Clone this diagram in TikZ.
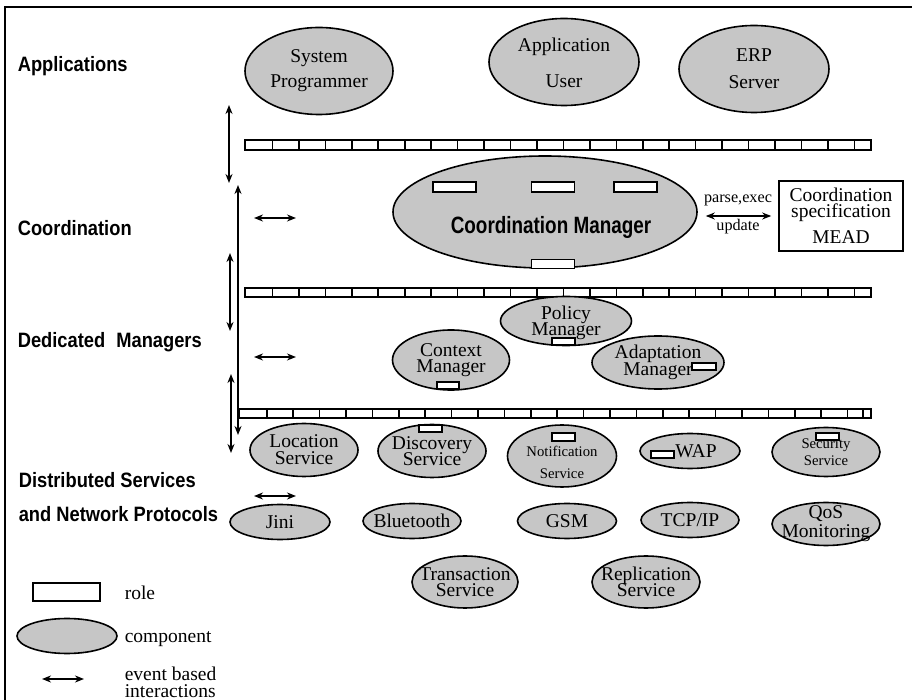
\documentclass[tikz,border=0pt]{standalone}
\usepackage{fontspec}
\setmainfont{Liberation Serif}
\setsansfont{Liberation Sans}
\newfontfamily\headfont[FakeStretch=0.88]{Liberation Sans}
\newfontfamily\mgrfont[FakeStretch=0.8]{Liberation Sans}
\usepackage{tikz}
\usetikzlibrary{shapes.geometric, arrows.meta, calc}
\lineskiplimit=-\maxdimen

\begin{document}
\begin{tikzpicture}[x=0.5pt, y=-0.5pt, thick, >={Stealth[length=4.5pt,width=3.5pt]},
    comp/.style={ellipse, draw, fill=gray!45, inner sep=-20pt, align=center, font=\fontsize{9.75}{8}\selectfont},
    lead/.style={font=\fontsize{9.75}{#1}\selectfont},
    compsmall/.style={font=\fontsize{7.35}{#1}\selectfont},
    role/.style={rectangle, draw, fill=white, inner sep=0pt, minimum width=11.5pt, minimum height=3.5pt},
    layerlabel/.style={font=\headfont\bfseries\fontsize{10.4}{12}\selectfont, anchor=base west, inner sep=0pt},
    legtext/.style={font=\fontsize{9.75}{8.5}\selectfont, inner sep=0pt, align=left}]
    \useasboundingbox (0,0) rectangle (912,700);
    \draw (5,700) -- (5,7) -- (912,7);

    % Layer names
    \node[layerlabel] (lapps) at (17,72) {Applications};
    \node[layerlabel] (lcoord) at (17,236) {Coordination};
    \node[layerlabel] (lmgrs) at (17,348) {Dedicated \hspace{3pt}Managers};
    \node[layerlabel] (lsrv) at (18,488) {Distributed Services};
    \node[layerlabel] (lnet) at (18,522) {and Network Protocols};

    % Role bars
    \draw (245,140) rectangle (871,150);
    \foreach \k in {1,...,23} \draw ({246+26.45*\k},140) -- ++(0,10);
    \draw (245,288) rectangle (871,297);
    \foreach \k in {1,...,23} \draw ({246+26.45*\k},288) -- ++(0,9);
    \draw (239,409) rectangle (871,418);
    \foreach \k in {1,...,23} \draw ({240.3+26.4*\k},409) -- ++(0,9);
    \draw (862.7,409) -- (862.7,418);

    % Applications
    \node[comp, lead=12.5, minimum width=74pt, minimum height=43.5pt] (sysprog) at (319,71) {System\\Programmer};
    \node[comp, lead=18, minimum width=75pt, minimum height=43.5pt] (appuser) at (564,62) {\rule{0pt}{8pt}Application\\User};
    \node[comp, lead=13.5, minimum width=75pt, minimum height=43.5pt] (erp) at (754,69) {ERP\\Server};

    % Coordination
    \node[comp, minimum width=152pt, minimum height=56pt] (coordmgr) at (545,212) {};
    \node[font=\mgrfont\bfseries\fontsize{11.8}{14}\selectfont, anchor=base, inner sep=0pt] (coordmgrtext) at (551,234) {Coordination Manager};
    \node[role, minimum width=21.5pt, minimum height=5pt] (cmrole1) at ($(coordmgr)+(-90.5,-25)$) {};
    \node[role, minimum width=21.5pt, minimum height=5pt] (cmrole2) at ($(coordmgr)+(8,-25)$) {};
    \node[role, minimum width=21.5pt, minimum height=5pt] (cmrole3) at ($(coordmgr)+(90.5,-25)$) {};
    \node[role, minimum width=21.5pt, minimum height=4.5pt] (cmrole4) at ($(coordmgr)+(8,52)$) {};
    \node[draw, rectangle, inner sep=0pt, minimum width=62pt, minimum height=35pt, align=center, font=\fontsize{9.75}{8}\selectfont] (spec) at (841,216) {Coordination\\specification\\[5pt]MEAD};
    \draw[<->, shorten <=4pt, shorten >=3.5pt] (coordmgr.east |- spec.west) -- node[above=3.75pt, inner sep=1pt, font=\fontsize{8.1}{9}\selectfont] (parse) {parse,exec} node[below, inner sep=1pt, font=\fontsize{8.1}{9}\selectfont] (update) {update} (spec.west);

    % Dedicated managers
    \node[comp, lead=8, minimum width=65.5pt, minimum height=24.5pt] (policy) at (566,321) {\rule{0pt}{9pt}Policy\\Manager};
    \node[role] (policyrole) at ($(policy)+(-2.5,20.5)$) {};
    \node[comp, lead=8, minimum width=58.5pt, minimum height=30pt] (context) at (451,360) {Context\\Manager};
    \node[role, minimum width=11pt] (contextrole) at ($(context)+(-3,25.5)$) {};
    \node[comp, lead=8.5, minimum width=66pt, minimum height=26.5pt] (adapt) at (658,362.5) {Adaptation\\Manager};
    \node[role, minimum width=12pt] (adaptrole) at ($(adapt)+(46,4)$) {};

    % Distributed services
    \node[comp, lead=8.5, minimum width=54pt, minimum height=26.5pt] (location) at (304,450) {Location\\Service};
    \node[comp, lead=8, minimum width=54pt, minimum height=26.5pt] (discovery) at (432,451) {Discovery\\Service};
    \node[role] (discoveryrole) at ($(discovery)+(-1.5,-22.5)$) {};
    \node[comp, compsmall=11, minimum width=54.5pt, minimum height=31pt] (notif) at (562,456) {\rule{0pt}{12pt}Notification\\Service};
    \node[role, minimum height=4pt] (notifrole) at ($(notif)+(1.5,-19)$) {};
    \node[comp, minimum width=50pt, minimum height=17.5pt] (wap) at (690,451) {\hspace*{6pt}WAP};
    \node[role] (waprole) at ($(wap)+(-27.5,3.5)$) {};
    \node[comp, compsmall=8.5, minimum width=54pt, minimum height=24.5pt] (security) at (826,452) {Security\\Service};
    \node[role] (securityrole) at ($(security)+(1.5,-15.5)$) {};

    % Network protocols
    \node[comp, minimum width=50pt, minimum height=17.5pt] (jini) at (280,522) {Jini};
    \node[comp, minimum width=49pt, minimum height=17.5pt] (bluetooth) at (412,521) {Bluetooth};
    \node[comp, minimum width=49.5pt, minimum height=17.5pt] (gsm) at (567,521) {GSM};
    \node[comp, minimum width=49pt, minimum height=17.5pt] (tcpip) at (690,520) {TCP/IP};
    \node[comp, lead=9.5, minimum width=54pt, minimum height=21.5pt] (qos) at (826,524) {QoS\\Monitoring};
    \node[comp, lead=8, minimum width=53pt, minimum height=26pt] (transaction) at (465,582) {Transaction\\Service};
    \node[comp, lead=8, minimum width=54pt, minimum height=26pt] (replication) at (646,582) {Replication\\Service};

    % Interactions between layers
    \coordinate (appup) at (229,105);
    \coordinate (appdown) at (229,183);
    \coordinate (coordup) at (238,185);
    \coordinate (coorddown) at (238,435);
    \coordinate (mgrup) at (230,253);
    \coordinate (mgrdown) at (230,331);
    \coordinate (srvup) at (231,374);
    \coordinate (srvdown) at (231,453);
    \draw[<->] (appup) -- (appdown);
    \draw[<->] (coordup) -- (coorddown);
    \draw[<->] (mgrup) -- (mgrdown);
    \draw[<->] (srvup) -- (srvdown);
    \foreach \y/\n in {218/coord, 357/mgr, 496/srv} {
        \coordinate (ev\n l) at (254,\y);
        \coordinate (ev\n r) at (296,\y);
        \draw[<->] (ev\n l) -- (ev\n r);
    }

    % Legend
    \node[role, minimum width=33.5pt, minimum height=9pt] (legrole) at (66.5,592) {};
    \node[legtext, anchor=base west] (legroletext) at (124,600) {role};
    \node[comp, minimum width=50pt, minimum height=17.5pt] (legcomp) at (67,636) {};
    \node[legtext, anchor=base west] (legcomptext) at (124,643) {component};
    \coordinate (legevl) at (42,679);
    \coordinate (legevr) at (84,679);
    \draw[<->] (legevl) -- (legevr);
    \node[legtext, anchor=north west] (legevtext) at (124,666) {event based\\interactions};
\end{tikzpicture}
\end{document}
